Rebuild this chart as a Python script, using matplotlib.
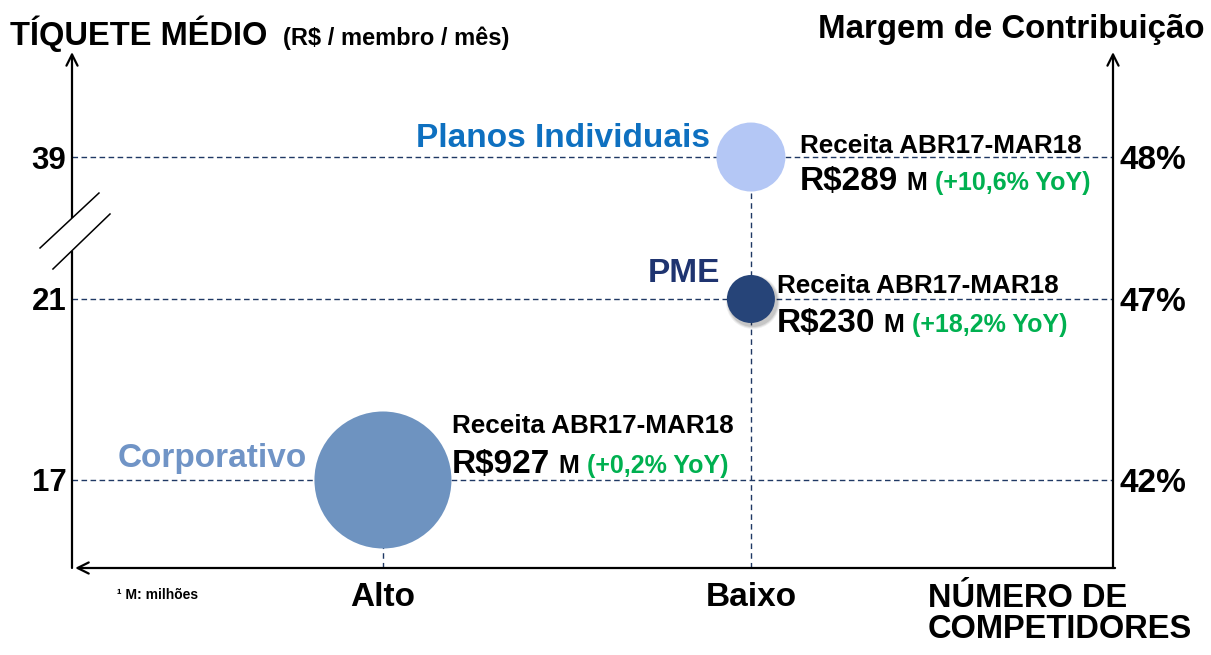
import numpy as np
import matplotlib
matplotlib.use('Agg')
import matplotlib.pyplot as plt

plt.rcParams['font.family'] = ['Liberation Sans', 'DejaVu Sans']
plt.rcParams['font.weight'] = 'bold'

# ---------------- data ----------------
segments = ['Corporativo', 'PME', 'Planos Individuais']
competition = ['Alto', 'Baixo', 'Baixo']
x_labels = ['Alto', 'Baixo']
ticket = [17, 21, 39]
margin = ['42%', '47%', '48%']
revenue = ['R$927', 'R$230', 'R$289']
yoy = ['(+0,2% YoY)', '(+18,2% YoY)', '(+10,6% YoY)']
period = 'Receita ABR17-MAR18'
y_ticks = [17, 21, 39]

# ---------------- styles ----------------
bubble_colors = ['#6E93C0', '#264478', '#B4C7F5']
label_colors = ['#7094C6', '#1F3470', '#0E70C0']
bubble_diam_px = [137, 48, 69]
shadow = [False, True, False]
label_off = [(-76, 13), (-31, 17), (-41, 10)]
block_off = [(69, 47, 7), (26, 6, -33), (49, 4, -33)]
navy = '#1F3864'
green = '#00B050'

W, H = 1211, 655
fig = plt.figure(figsize=(W / 100, H / 100), dpi=100)
fig.patch.set_facecolor('white')

# axes box in pixels: x 72..1113, y 50..568
ax = fig.add_axes([72 / W, (H - 568) / H, 1041 / W, 518 / H])

# broken y scale: linear up to 21, compressed above
K = 0.1743
def fwd(v):
    v = np.asarray(v, dtype=float)
    return np.where(v <= 21, v, 21 + (v - 21) * K)
def inv(t):
    t = np.asarray(t, dtype=float)
    return np.where(t <= 21, t, 21 + (t - 21) / K)

ax.set_yscale('function', functions=(fwd, inv))
ylo, yhi = 15.055, 52.57
ax.set_ylim(ylo, yhi)
ax.set_xlim(0.155, 2.984)
for s in ax.spines.values():
    s.set_visible(False)

xpos = [x_labels.index(c) + 1 for c in competition]

# dashed guides
for t in ticket:
    ax.axhline(t, color=navy, lw=1.0, ls=(0, (4, 2.5)), zorder=1)
for i, lab in enumerate(x_labels):
    tops = [t for t, c in zip(ticket, competition) if c == lab]
    ax.vlines(i + 1, ylo, max(tops), color=navy, lw=1.0, ls=(0, (4, 3)), zorder=1)

# soft shadow for the small bubble
import matplotlib.transforms as mtransforms
sh_tr = ax.transData + mtransforms.ScaledTranslation(2 / 100, -3 / 100, fig.dpi_scale_trans)
for i in range(len(segments)):
    if shadow[i]:
        for grow, a in [(6, 0.06), (4, 0.08), (2, 0.10)]:
            ax.scatter([xpos[i]], [ticket[i]], s=((bubble_diam_px[i] + grow) * 0.72) ** 2,
                       c='black', alpha=a, edgecolors='none', zorder=2, transform=sh_tr)

# bubbles
ax.scatter(xpos, ticket, s=[(d * 0.72) ** 2 for d in bubble_diam_px],
           c=bubble_colors, edgecolors='none', zorder=3, clip_on=False)

# labels
for i, seg in enumerate(segments):
    dx, dy = label_off[i]
    ax.annotate(seg, xy=(xpos[i], ticket[i]), xytext=(dx, dy), textcoords='offset pixels',
                ha='right', va='baseline', fontsize=24, fontweight='bold',
                color=label_colors[i], zorder=4)
    bx, by1, by2 = block_off[i]
    ax.annotate(period, xy=(xpos[i], ticket[i]), xytext=(bx, by1), textcoords='offset pixels',
                ha='left', va='baseline', fontsize=18.8, fontweight='bold', color='black', zorder=4)
    t2 = ax.annotate(revenue[i], xy=(xpos[i], ticket[i]), xytext=(bx, by2),
                     textcoords='offset pixels', ha='left', va='baseline', fontsize=24,
                     fontweight='bold', color='black', zorder=4)
    t3 = ax.annotate('M', xy=(1, ticket[i]), xycoords=(t2, 'data'), xytext=(8, by2),
                     textcoords='offset pixels', ha='left', va='baseline', fontsize=18,
                     fontweight='bold', color='black', zorder=4)
    ax.annotate(yoy[i], xy=(1, ticket[i]), xycoords=(t3, 'data'), xytext=(8, by2),
                textcoords='offset pixels', ha='left', va='baseline', fontsize=18,
                fontweight='bold', color=green, zorder=4)

# ticks
ax.set_yticks(y_ticks, labels=[str(v) for v in y_ticks])
ax.tick_params(axis='y', length=0, pad=4, labelsize=22.5)
ax.set_xticks([1, 2], labels=x_labels)
ax.tick_params(axis='x', length=0, pad=10, labelsize=24)
for lbl in ax.get_yticklabels() + ax.get_xticklabels():
    lbl.set_fontweight('bold')

ax2 = ax.twinx()
ax2.set_yscale('function', functions=(fwd, inv))
ax2.set_ylim(ylo, yhi)
ax2.set_yticks(ticket, labels=margin)
ax2.tick_params(axis='y', length=0, pad=5, labelsize=24)
for lbl in ax2.get_yticklabels():
    lbl.set_fontweight('bold')
for s in ax2.spines.values():
    s.set_visible(False)

# axis lines with arrows
arrow = dict(arrowstyle='->', lw=1.6, color='black', shrinkA=0, shrinkB=0, mutation_scale=20)
ax.annotate('', xy=(0, 0.996), xytext=(0, 0), xycoords='axes fraction', arrowprops=arrow)
ax.annotate('', xy=(1, 0.996), xytext=(1, 0), xycoords='axes fraction', arrowprops=arrow)
ax.annotate('', xy=(0.003, 0), xytext=(1.002, 0), xycoords='axes fraction', arrowprops=arrow)

# axis break
ax.plot([0, 0], [0.612, 0.676], color='white', lw=4, transform=ax.transAxes,
        clip_on=False, zorder=5, solid_capstyle='butt')
ax.plot([-0.0307, 0.0259], [0.6178, 0.7239], color='black', lw=1.1,
        transform=ax.transAxes, clip_on=False, zorder=6)
ax.plot([-0.0183, 0.0365], [0.5772, 0.6834], color='black', lw=1.1,
        transform=ax.transAxes, clip_on=False, zorder=6)

def px(x, y):
    return x / W, 1 - y / H

fig.text(*px(10, 45), 'TÍQUETE MÉDIO', fontsize=23.5, fontweight='bold', va='baseline', ha='left')
fig.text(*px(283, 45), '(R$ / membro / mês)', fontsize=17, fontweight='bold', va='baseline', ha='left')
fig.text(*px(1205, 38), 'Margem de Contribuição', fontsize=23.8, fontweight='bold', va='baseline', ha='right')
fig.text(*px(117, 599), '¹ M: milhões', fontsize=10, fontweight='bold', va='baseline', ha='left')
fig.text(*px(928, 607), 'NÚMERO DE', fontsize=23.5, fontweight='bold', va='baseline', ha='left')
fig.text(*px(928, 638), 'COMPETIDORES', fontsize=23.5, fontweight='bold', va='baseline', ha='left')

fig.savefig('out.png', dpi=100, facecolor='white')
